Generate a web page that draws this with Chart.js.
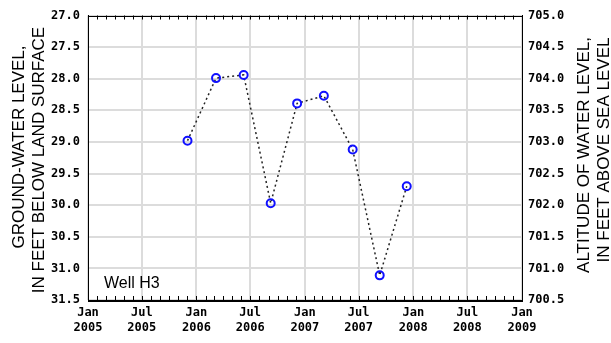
<!DOCTYPE html>
<html>
<head>
<meta charset="utf-8">
<script src="https://cdn.jsdelivr.net/npm/chart.js@4/dist/chart.umd.min.js"></script>
<style>
  html, body { margin: 0; padding: 0; background: #ffffff; }
  #wrap { width: 611px; height: 343px; }
</style>
</head>
<body>
<div id="wrap"><canvas id="c" width="611" height="343"></canvas></div>
<script>
// Ground-water level measurements, Well H3
const sampleDates = ['2005-12-02', '2006-03-08', '2006-06-09', '2006-09-08', '2006-12-06',
                     '2007-03-06', '2007-06-11', '2007-09-10', '2007-12-10'];
const depthBelowSurface = [28.98, 27.99, 27.94, 29.97, 28.39, 28.27, 29.12, 31.11, 29.70];

// Axis ticks
const xTickDates = ['2005-01-01', '2005-07-01', '2006-01-01', '2006-07-01', '2007-01-01',
                    '2007-07-01', '2008-01-01', '2008-07-01', '2009-01-01'];
const xTickLabels = [['Jan', '2005'], ['Jul', '2005'], ['Jan', '2006'], ['Jul', '2006'], ['Jan', '2007'],
                     ['Jul', '2007'], ['Jan', '2008'], ['Jul', '2008'], ['Jan', '2009']];
const depthTicks = [27.0, 27.5, 28.0, 28.5, 29.0, 29.5, 30.0, 30.5, 31.0, 31.5];
const altitudeTicks = [700.5, 701.0, 701.5, 702.0, 702.5, 703.0, 703.5, 704.0, 704.5, 705.0];

const wellName = 'Well H3';
const leftTitle = ['GROUND-WATER LEVEL,', 'IN FEET BELOW LAND SURFACE'];
const rightTitle = ['ALTITUDE OF WATER LEVEL,', 'IN FEET ABOVE SEA LEVEL'];

// Dates are plotted as day numbers
const dayNum = s => Date.parse(s + 'T00:00:00Z') / 86400000;

const points = sampleDates.map((d, i) => ({ x: dayNum(d), y: depthBelowSurface[i] }));

const tickFont = { family: '"DejaVu Sans Mono", monospace', size: 12, weight: 'bold', lineHeight: 1.25 };
const gridColor = '#dcdcdc';

// Frame, monthly minor ticks, axis titles and well name
const decorations = {
  id: 'decorations',
  afterDraw(chart) {
    const { ctx, chartArea: a, scales } = chart;
    const x = scales.x;
    ctx.save();
    ctx.strokeStyle = '#000';
    ctx.lineWidth = 1;
    // monthly minor ticks along top and bottom
    ctx.beginPath();
    for (let y = 2005; y <= 2008; y++) {
      for (let m = 0; m < 12; m++) {
        const px = Math.round(x.getPixelForValue(Date.UTC(y, m, 1) / 86400000)) + 0.5;
        ctx.moveTo(px, a.bottom);
        ctx.lineTo(px, a.bottom - 4);
        ctx.moveTo(px, a.top);
        ctx.lineTo(px, a.top + 4);
      }
    }
    ctx.stroke();
    // frame
    ctx.strokeRect(Math.round(a.left) + 0.5, Math.round(a.top) + 0.5,
                   Math.round(a.right - a.left), Math.round(a.bottom - a.top));

    // well name
    ctx.fillStyle = '#000';
    ctx.font = '16px "Liberation Sans", Arial, sans-serif';
    ctx.textAlign = 'left';
    ctx.textBaseline = 'middle';
    ctx.fillText(wellName, a.left + 16, a.bottom - 16);

    // axis titles, reading bottom to top
    ctx.font = '17px "Liberation Sans", Arial, sans-serif';
    ctx.textAlign = 'center';
    const drawV = (text, cx, cy) => {
      ctx.save();
      ctx.translate(cx, cy);
      ctx.rotate(-Math.PI / 2);
      ctx.fillText(text, 0, 0);
      ctx.restore();
    };
    drawV(leftTitle[0], 19, 147);
    drawV(leftTitle[1], 39, 160);
    drawV(rightTitle[0], 584, 155);
    drawV(rightTitle[1], 604, 150);
    ctx.restore();
  }
};

new Chart(document.getElementById('c'), {
  type: 'line',
  data: {
    datasets: [{
      data: points,
      yAxisID: 'y',
      borderColor: '#222',
      borderWidth: 1.5,
      borderDash: [2, 3],
      tension: 0,
      fill: false,
      pointRadius: 4,
      pointHoverRadius: 4,
      pointBorderWidth: 2,
      pointBorderColor: '#1010ff',
      pointBackgroundColor: 'rgba(0,0,0,0)'
    }]
  },
  options: {
    responsive: false,
    animation: false,
    devicePixelRatio: 1,
    layout: { padding: { top: 10, left: 0, right: 0, bottom: 0 } },
    plugins: { legend: { display: false }, tooltip: { enabled: false } },
    scales: {
      x: {
        type: 'linear',
        min: dayNum(xTickDates[0]),
        max: dayNum(xTickDates[xTickDates.length - 1]),
        afterBuildTicks: s => { s.ticks = xTickDates.map(d => ({ value: dayNum(d) })); },
        afterFit: s => { s.height = 43; },
        ticks: {
          autoSkip: false,
          maxRotation: 0,
          padding: 5,
          color: '#000',
          font: tickFont,
          callback: (v, i) => xTickLabels[i]
        },
        grid: { color: gridColor, lineWidth: 2, drawTicks: false },
        border: { display: true, color: '#000', width: 1 }
      },
      y: {
        position: 'left',
        reverse: true,
        min: depthTicks[0],
        max: depthTicks[depthTicks.length - 1],
        afterBuildTicks: s => { s.ticks = depthTicks.map(v => ({ value: v })); },
        afterFit: s => { s.width = 88; },
        ticks: { padding: 8, color: '#000', font: tickFont, callback: v => v.toFixed(1) },
        grid: { color: gridColor, lineWidth: 2, drawTicks: false },
        border: { display: true, color: '#000', width: 1 }
      },
      y2: {
        position: 'right',
        min: altitudeTicks[0],
        max: altitudeTicks[altitudeTicks.length - 1],
        afterBuildTicks: s => { s.ticks = altitudeTicks.map(v => ({ value: v })); },
        afterFit: s => { s.width = 89; },
        ticks: { padding: 6, color: '#000', font: tickFont, callback: v => v.toFixed(1) },
        grid: { drawOnChartArea: false, drawTicks: false },
        border: { display: true, color: '#000', width: 1 }
      }
    }
  },
  plugins: [decorations]
});
</script>
</body>
</html>
